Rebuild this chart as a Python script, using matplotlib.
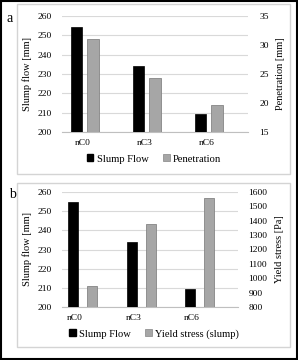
import matplotlib
matplotlib.use("Agg")
import matplotlib.pyplot as plt
from matplotlib.patches import Rectangle
import numpy as np

plt.rcParams['font.family'] = ['Liberation Serif', 'DejaVu Serif']

categories = ['nC0', 'nC3', 'nC6']
slump_flow = [254.5, 234, 209.5]
penetration = [31, 24.3, 19.7]
yield_stress = [947, 1376, 1558]

W, H = 298, 360
fig = plt.figure(figsize=(W / 100, H / 100), dpi=100)


def fx(px):
    return px / W


def fy(py):
    return 1 - py / H


# outer border and panel boxes
fig.patches.append(Rectangle((0.002, 0.004), 0.993, 0.993, transform=fig.transFigure,
                             fill=False, edgecolor='black', linewidth=1.5))
for top, bot in [(4, 174), (183, 347)]:
    fig.patches.append(Rectangle((fx(17), fy(bot)), fx(290) - fx(17), fy(top) - fy(bot),
                                 transform=fig.transFigure, fill=False,
                                 edgecolor='#d4d4d4', linewidth=1.0))


def panel(rect, right_vals, right_lim, right_ticks, right_label, legend_label,
          black_off, gray_off, label_off, width, legend_y, letter, letter_pos):
    x = np.arange(len(categories))
    ax = fig.add_axes(rect)
    ax2 = ax.twinx()
    ax.bar(x + black_off, slump_flow, width, color='black', edgecolor='black',
           linewidth=0.5, zorder=3)
    ax2.bar(x + gray_off, right_vals, width, color='#a6a6a6', edgecolor='#858585',
            linewidth=0.6, zorder=3)
    ax.set_ylim(200, 260)
    ax.set_yticks(range(200, 261, 10))
    ax2.set_ylim(*right_lim)
    ax2.set_yticks(right_ticks)
    ax.set_xlim(-0.5, 2.5)
    ax.set_xticks(x + label_off)
    ax.set_xticklabels(categories)
    ax.yaxis.grid(True, color='#d9d9d9', linewidth=0.8, zorder=0)
    ax.set_axisbelow(True)
    for a in (ax, ax2):
        for s in a.spines.values():
            s.set_visible(False)
        a.tick_params(length=0, labelsize=6.8)
    ax.spines['bottom'].set_visible(True)
    ax.spines['bottom'].set_color('#bfbfbf')
    ax.spines['bottom'].set_linewidth(0.8)
    ax.tick_params(axis='y', pad=7)
    ax.tick_params(axis='x', pad=5)
    ax2.tick_params(axis='y', pad=8)
    ax.set_ylabel('Slump flow [mm]', fontsize=7.5, labelpad=4)
    ax2.set_ylabel(right_label, fontsize=7.5, labelpad=5)
    h1 = Rectangle((0, 0), 1, 1, color='black')
    h2 = Rectangle((0, 0), 1, 1, facecolor='#a6a6a6', edgecolor='#858585', linewidth=0.5)
    fig.legend([h1, h2], ['Slump Flow', legend_label], loc='center',
               bbox_to_anchor=(fx(154), fy(legend_y)), ncol=2, frameon=False,
               fontsize=7.6, handlelength=0.6, handleheight=0.6, handletextpad=0.3,
               columnspacing=1.4)
    fig.text(fx(letter_pos[0]), fy(letter_pos[1]), letter, fontsize=10,
             ha='center', va='center')


panel([fx(62), fy(132), fx(248) - fx(62), fy(16) - fy(132)],
      penetration, (15, 35), range(15, 36, 5), 'Penetration [mm]', 'Penetration',
      -0.27, 0.0, -0.16, 0.185, 159, 'a', (10, 18))

panel([fx(62), fy(307.3), fx(237.5) - fx(62), fy(191.7) - fy(307.3)],
      yield_stress, (800, 1600), range(800, 1601, 100), 'Yield stress [Pa]',
      'Yield stress (slump)', -0.31, 0.02, -0.28, 0.17, 334, 'b', (12, 194))

fig.savefig('out.png', dpi=100)
